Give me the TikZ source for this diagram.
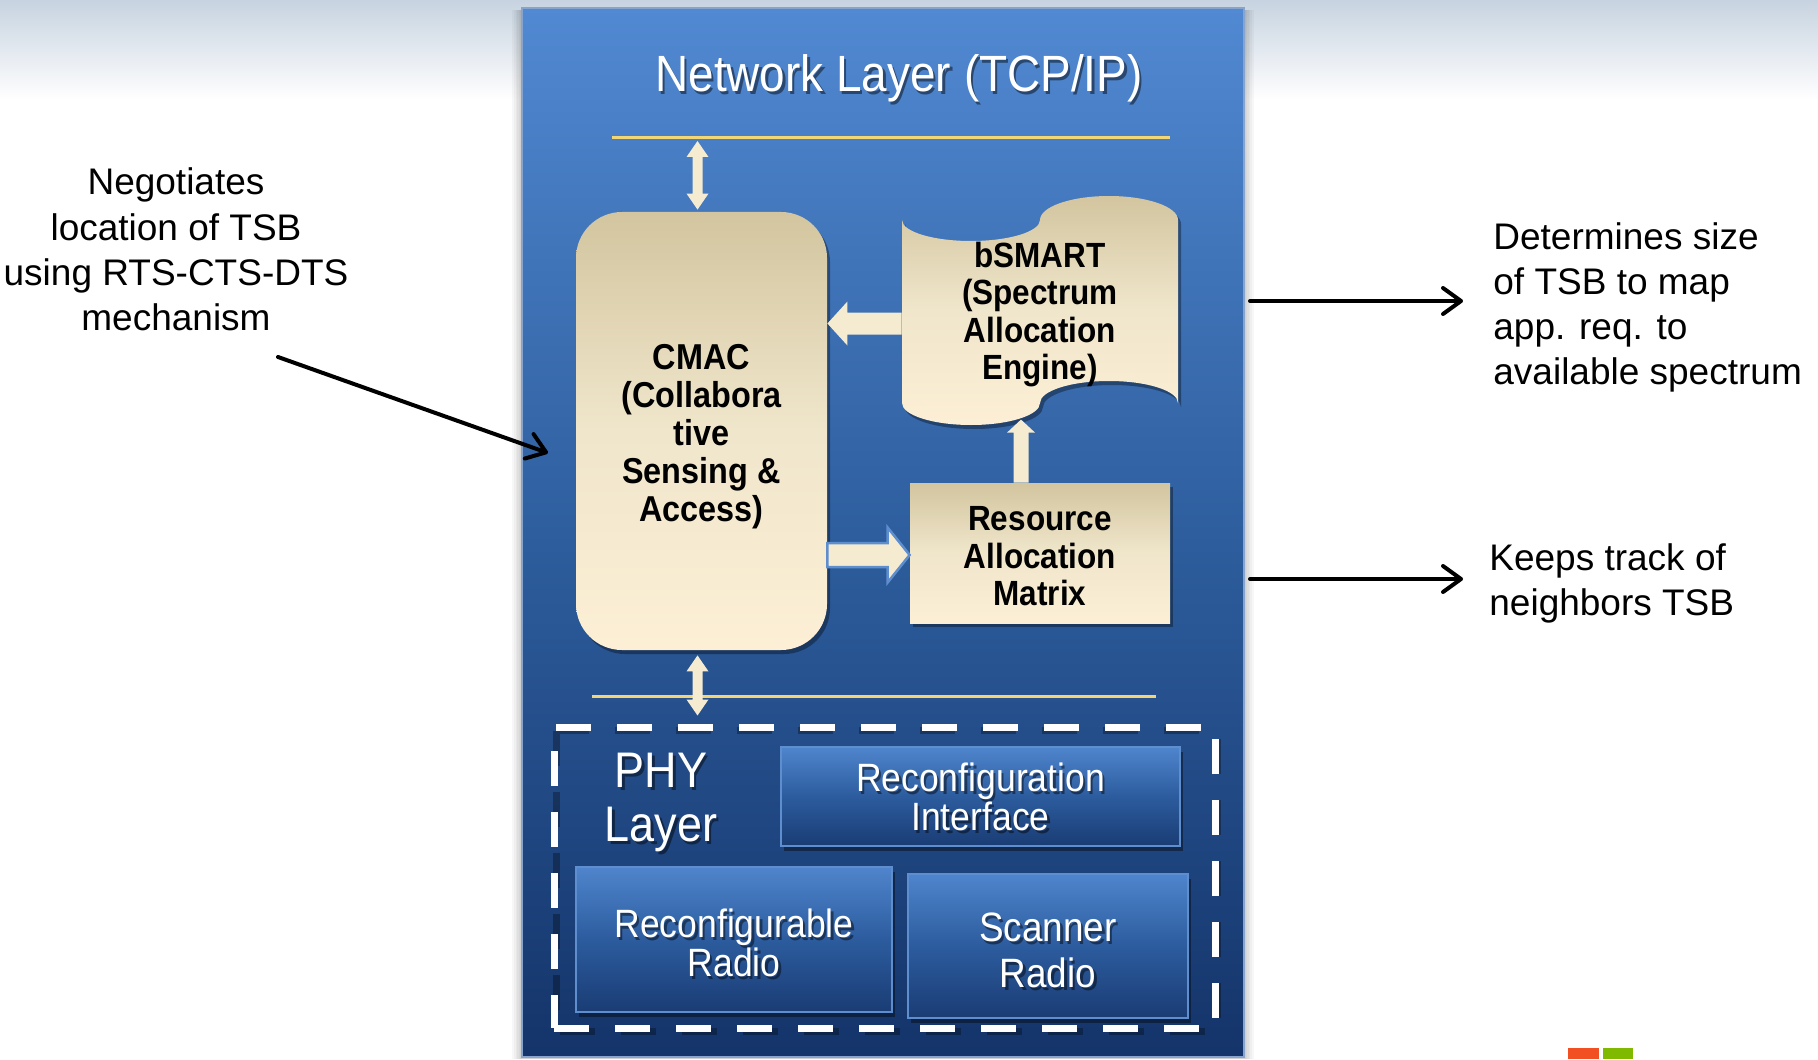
\documentclass[tikz,border=0pt]{standalone}
\usepackage{fontspec}
\setmainfont{Liberation Sans}
\newfontfamily\narrowfont[FakeStretch=0.9]{Liberation Sans}
\usetikzlibrary{calc,arrows.meta,shadows}

\definecolor{panelTop}{HTML}{5189D2}
\definecolor{panelMid}{HTML}{2E5E9E}
\definecolor{panelBot}{HTML}{14346A}
\definecolor{panelEdge}{HTML}{86A4CE}
\definecolor{creamTop}{HTML}{D2C59F}
\definecolor{creamMid}{HTML}{F0E6CB}
\definecolor{creamBot}{HTML}{FCEFD5}
\definecolor{boxTop}{HTML}{4F85CD}
\definecolor{boxMid}{HTML}{2C5C9E}
\definecolor{boxBot}{HTML}{1A3C74}
\definecolor{boxEdge}{HTML}{5F8ECF}
\definecolor{ruleYellow}{HTML}{F2D675}
\definecolor{arrowCream}{HTML}{F5EBD0}
\definecolor{skyTop}{HTML}{C7D3E0}
\definecolor{msOrange}{HTML}{F25022}
\definecolor{msGreen}{HTML}{7FBA00}

% single-headed block arrow: options, start, tip, half shaft, half head, head length
\newcommand\blockarrow[6]{%
  \coordinate (ba-b) at ($(#3)!#6!(#2)$);
  \path[#1] ($(#2)!#4!90:(#3)$) -- ($(ba-b)!#4!-90:(#2)$) -- ($(ba-b)!#5!-90:(#2)$) -- (#3)
    -- ($(ba-b)!#5!90:(#2)$) -- ($(ba-b)!#4!90:(#2)$) -- ($(#2)!#4!-90:(#3)$) -- cycle;}
% double-headed block arrow: options, tip a, tip b, half shaft, half head, head length
\newcommand\dblockarrow[6]{%
  \coordinate (ba-a) at ($(#2)!#6!(#3)$);
  \coordinate (ba-b) at ($(#3)!#6!(#2)$);
  \path[#1] (#2) -- ($(ba-a)!#5!90:(#3)$) -- ($(ba-a)!#4!90:(#3)$) -- ($(ba-b)!#4!-90:(#2)$)
    -- ($(ba-b)!#5!-90:(#2)$) -- (#3) -- ($(ba-b)!#5!90:(#2)$) -- ($(ba-b)!#4!90:(#2)$)
    -- ($(ba-a)!#4!-90:(#3)$) -- ($(ba-a)!#5!-90:(#3)$) -- cycle;}
% white label with a soft dark shadow: name, position (a named coordinate), font, text
\newcommand\shadowlabel[4]{%
  \node[font=#3, text=black, text opacity=.45, align=center, inner sep=0pt] (#1-sh) at ([xshift=1.2pt,yshift=-1.6pt]#2) {#4};
  \node[font=#3, text=white, align=center, inner sep=0pt] (#1) at (#2) {#4};}

\begin{document}
\begin{tikzpicture}[x=0.5pt, y=-0.5pt,
  creambox/.style={top color=creamTop, bottom color=creamBot, middle color=creamMid,
    drop shadow={shadow xshift=1.5pt, shadow yshift=-2pt, opacity=.35, fill=black},
    inner sep=0pt, align=center},
  bluebox/.style={draw=boxEdge, line width=1.25pt, top color=boxTop, bottom color=boxBot,
    middle color=boxMid, drop shadow={shadow xshift=1.5pt, shadow yshift=-2.5pt, opacity=.4, fill=black},
    inner sep=0pt},
  boldlabel/.style={font=\narrowfont\bfseries\fontsize{17.5}{18.8}\selectfont},
  annot/.style={font=\fontsize{18.5}{22.6}\selectfont, inner sep=0pt},
  annarrow/.style={line width=2pt, line cap=round, line join=round,
    -{Straight Barb[length=9pt,width=13pt,line cap=round,line join=round]}},
  yrule/.style={draw=ruleYellow, line width=1.5pt}]

\useasboundingbox (0,0) rectangle (1818,1059);
\fill[white] (0,0) rectangle (1818,1059);
\path[top color=skyTop, bottom color=white] (0,0) rectangle (1818,100);

% soft shadow around the stack panel
\foreach \k in {1,...,6}
  \fill[black, opacity=0.03] (522-\k*1.6,10) rectangle (1244+\k*1.6,1059);
\node[draw=panelEdge, line width=1pt, top color=panelTop, bottom color=panelBot, middle color=panelMid,
  minimum width=361pt, minimum height=524.5pt, inner sep=0pt] (panel) at (883,532.5) {};

\coordinate (title-c) at (899,78);
\shadowlabel{title}{title-c}{\narrowfont\fontsize{25.5}{30}\selectfont}{Network Layer (TCP/IP)}

% layer boundaries
\draw[yrule] (612,138) coordinate (nl-a) -- (1170,138) coordinate (nl-b);
\draw[yrule] (592,696) coordinate (pl-a) -- (1156,696) coordinate (pl-b);

% MAC layer blocks
\node[creambox, rounded corners=23pt, minimum width=125.5pt, minimum height=219pt] (cmac) at (701.5,431) {};
\node[font=\narrowfont\bfseries\fontsize{18}{19}\selectfont, align=center, inner sep=0pt] (cmac-t)
  at (701.5,437) {CMAC\\(Collabora\\tive\\Sensing \&\\Access)};

% punched-tape outline: two half ellipses on top and on the bottom edge
\path[creambox] (902,220)
  arc[start angle=180, end angle=360, x radius=34.5pt, y radius=10.5pt]
  arc[start angle=180, end angle=0, x radius=34.5pt, y radius=12pt]
  -- (1178,403)
  arc[start angle=0, end angle=180, x radius=34.5pt, y radius=11pt]
  arc[start angle=0, end angle=-180, x radius=34.5pt, y radius=11pt]
  -- cycle;
\node[boldlabel, align=center, minimum width=138pt, minimum height=91pt, inner sep=0pt] (bsmart)
  at (1040,314.5) {bSMART\\(Spectrum\\Allocation\\Engine)};

\node[creambox, minimum width=130pt, minimum height=70pt] (ram) at (1040,553) {};
\node[boldlabel, align=center, inner sep=0pt] (ram-t) at (1040,556.5) {Resource\\Allocation\\Matrix};

% PHY layer
\draw[black, opacity=.3, line width=3.5pt, dash pattern=on 17.5pt off 13pt]
  ([xshift=1.2pt,yshift=-1.8pt]554,727) rectangle ([xshift=1.2pt,yshift=-1.8pt]1215,1028);
\node[draw=white, line width=3.5pt, dash pattern=on 17.5pt off 13pt, minimum width=330.5pt,
  minimum height=150.5pt, inner sep=0pt] (phybox) at (884.5,877.5) {};

\coordinate (phy-c) at (661,802);
\shadowlabel{phy}{phy-c}{\narrowfont\fontsize{25}{27}\selectfont}{PHY\\Layer}

\node[bluebox, minimum width=199.5pt, minimum height=49.5pt] (recint) at (980.5,796.5) {};
\shadowlabel{recint-t}{recint.center}{\narrowfont\fontsize{19.75}{19.5}\selectfont}{Reconfiguration\\Interface}

\node[bluebox, minimum width=158pt, minimum height=72.5pt] (recradio) at (734,939.5) {};
\coordinate (recradio-c) at ([yshift=-1.5pt]recradio.center);
\shadowlabel{recradio-t}{recradio-c}{\narrowfont\fontsize{19.75}{19.5}\selectfont}{Reconfigurable\\Radio}

\node[bluebox, minimum width=140pt, minimum height=72pt] (scanner) at (1048,946) {};
\coordinate (scanner-c) at ([yshift=-2pt]scanner.center);
\shadowlabel{scanner-t}{scanner-c}{\narrowfont\fontsize{20.5}{23}\selectfont}{Scanner\\Radio}

% block arrows between the layers and blocks
\coordinate (up-m) at (cmac.north |- nl-a);
\coordinate (up-a) at ([xshift=-2pt,yshift=-1.5pt]up-m);
\coordinate (up-b) at ([xshift=-2pt,yshift=1pt]cmac.north);
\dblockarrow{fill=arrowCream}{up-a}{up-b}{2.5pt}{5.5pt}{8pt}

\coordinate (dn-m) at (cmac.south |- phybox.north);
\coordinate (dn-a) at ([xshift=-2pt,yshift=-2.5pt]cmac.south);
\coordinate (dn-b) at ([xshift=-2pt,yshift=4pt]dn-m);
\dblockarrow{fill=arrowCream}{dn-a}{dn-b}{2.5pt}{5.5pt}{8pt}

\coordinate (ls) at ([yshift=-4.5pt]bsmart.west);
\coordinate (le) at (cmac.east |- ls);
\blockarrow{fill=arrowCream}{ls}{le}{5.5pt}{11pt}{10pt}

\coordinate (us) at ([xshift=-9.5pt]ram.north);
\coordinate (ue) at ([yshift=31.5pt]us);
\blockarrow{fill=arrowCream}{us}{ue}{3.75pt}{7pt}{6.5pt}

\coordinate (rm) at (cmac.east |- ram.west);
\coordinate (rs) at ([yshift=-1pt]rm);
\coordinate (re) at ([yshift=-1pt]ram.west);
\blockarrow{fill=arrowCream, draw=boxEdge, line width=1.25pt, line join=miter}{rs}{re}{6pt}{13.75pt}{11pt}

% side notes
\node[annot, align=center] (lt) at (176,249.5)
  {Negotiates\\location of TSB\\using RTS-CTS-DTS\\mechanism};
\node[annot, align=left, anchor=west] (rt1) at (1493,307.5)
  {Determines size\\of TSB to map\\app. req. to\\available spectrum};
\node[annot, align=left, anchor=west] (rt2) at (1489,583.5)
  {Keeps track of\\neighbors TSB};

\coordinate (la-s) at (278,357);
\coordinate (la-e) at (548,453);
\draw[annarrow] (la-s) -- (la-e);
\coordinate (ra-s) at (1250,301);
\draw[annarrow, shorten >=15pt] (ra-s) -- (ra-s -| rt1.west);
\coordinate (rb-s) at (1250,579);
\draw[annarrow, shorten >=13pt] (rb-s) -- (rb-s -| rt2.west);

% corner logo strip
\fill[msOrange] (1568,1048) rectangle (1599,1059);
\fill[msGreen] (1603,1048) rectangle (1633,1059);
\end{tikzpicture}
\end{document}
